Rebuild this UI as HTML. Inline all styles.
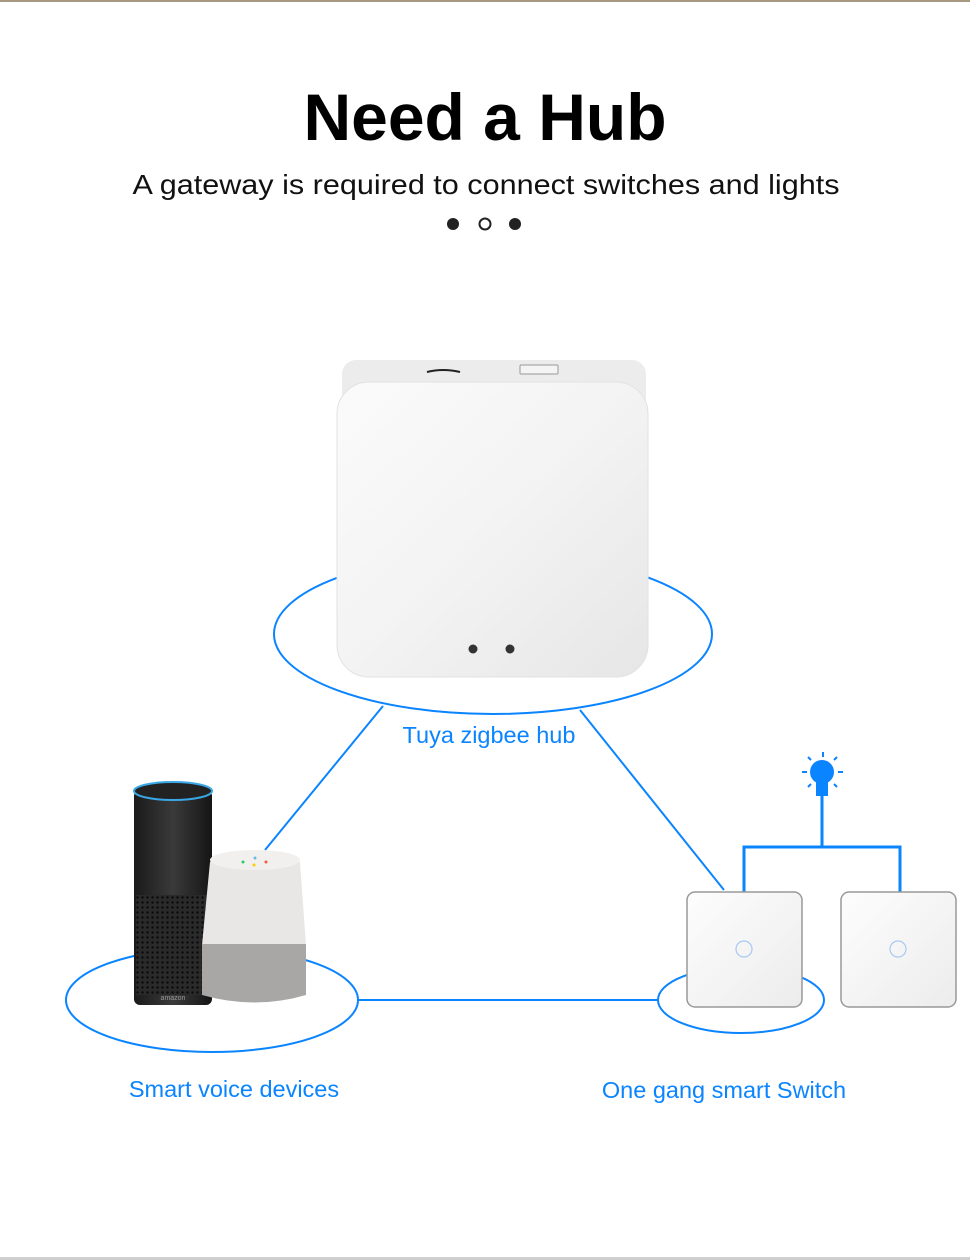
<!DOCTYPE html>
<html><head><meta charset="utf-8"><style>
html,body{margin:0;padding:0;background:#fff;}
body{width:970px;height:1260px;overflow:hidden;position:relative;}
</style></head><body>
<svg width="970" height="1260" viewBox="0 0 970 1260" xmlns="http://www.w3.org/2000/svg" style="position:absolute;left:0;top:0">
<defs>
<linearGradient id="hubg" x1="0" y1="0" x2="1" y2="1">
<stop offset="0" stop-color="#fbfbfb"/><stop offset="0.5" stop-color="#f3f3f3"/><stop offset="1" stop-color="#e6e6e6"/></linearGradient>
<linearGradient id="sw" x1="0" y1="0" x2="1" y2="1">
<stop offset="0" stop-color="#fdfdfd"/><stop offset="1" stop-color="#ececec"/></linearGradient>
<linearGradient id="echo" x1="0" x2="1"><stop offset="0" stop-color="#1a1a1a"/><stop offset="0.5" stop-color="#3a3a3a"/><stop offset="1" stop-color="#151515"/></linearGradient>
<pattern id="dots" width="5" height="5" patternUnits="userSpaceOnUse"><rect width="5" height="5" fill="#2a2a2a"/><circle cx="2.5" cy="2.5" r="1.2" fill="#0a0a0a"/></pattern>
</defs>
<rect x="0" y="0" width="970" height="2" fill="#a89880"/>
<rect x="0" y="1257" width="970" height="3" fill="#cfcfcf"/>
<text x="485" y="140" text-anchor="middle" font-family="Liberation Sans, sans-serif" font-weight="bold" font-size="66" fill="#000">Need a Hub</text>
<text x="486" y="194" text-anchor="middle" font-family="Liberation Sans, sans-serif" font-size="28" textLength="707" lengthAdjust="spacingAndGlyphs" fill="#111">A gateway is required to connect switches and lights</text>
<circle cx="453" cy="224" r="6" fill="#222"/>
<circle cx="485" cy="224" r="5.5" fill="none" stroke="#222" stroke-width="2"/>
<circle cx="515" cy="224" r="6" fill="#222"/>
<g fill="none" stroke="#0a84ff" stroke-width="2">
<ellipse cx="493" cy="634" rx="219" ry="80"/>
<ellipse cx="212" cy="1000" rx="146" ry="52"/>
<ellipse cx="741" cy="1000" rx="83" ry="33"/>
<line x1="383" y1="706" x2="265" y2="850"/>
<line x1="580" y1="710" x2="724" y2="890"/>
<line x1="358" y1="1000" x2="658" y2="1000"/>
</g>
<!-- hub -->
<rect x="342" y="360" width="304" height="60" rx="14" fill="#ececec"/>
<rect x="337" y="382" width="311" height="295" rx="32" fill="url(#hubg)" stroke="#e2e2e2"/>
<path d="M427 372 Q443 368 460 372" stroke="#222" stroke-width="2" fill="none"/>
<rect x="520" y="365" width="38" height="9" rx="1" fill="#f4f4f4" stroke="#999"/>
<circle cx="473" cy="649" r="4.5" fill="#333"/><circle cx="510" cy="649" r="4.5" fill="#333"/>
<text x="489" y="743" text-anchor="middle" font-family="Liberation Sans, sans-serif" font-size="23.5" fill="#0a84ff">Tuya zigbee hub</text>
<!-- echo -->
<rect x="134" y="790" width="78" height="215" rx="6" fill="url(#echo)"/>
<rect x="136" y="895" width="74" height="100" fill="url(#dots)"/>
<ellipse cx="173" cy="791" rx="39" ry="9" fill="#222" stroke="#3aa7e6" stroke-width="2"/>
<text x="173" y="1000" text-anchor="middle" font-family="Liberation Sans, sans-serif" font-size="7" fill="#999">amazon</text>
<!-- google home -->
<path d="M210 862 Q255 845 300 862 L306 945 L202 945 Z" fill="#e9e7e5"/>
<ellipse cx="255" cy="860" rx="45" ry="10" fill="#f1f0ee"/>
<path d="M202 944 L306 944 L306 995 Q255 1010 202 995 Z" fill="#a9a7a5"/>
<circle cx="243" cy="862" r="1.5" fill="#2c6"/><circle cx="255" cy="858" r="1.5" fill="#6bd"/><circle cx="254" cy="865" r="1.5" fill="#fc0"/><circle cx="266" cy="862" r="1.5" fill="#f54"/>
<text x="234" y="1097" text-anchor="middle" font-family="Liberation Sans, sans-serif" font-size="23.5" fill="#0a84ff">Smart voice devices</text>
<!-- switches -->
<g fill="none" stroke="#0a84ff" stroke-width="3">
<line x1="822" y1="795" x2="822" y2="847"/>
<polyline points="744,892 744,847 900,847 900,892"/>
</g>
<circle cx="822" cy="772" r="12" fill="#0a84ff"/>
<rect x="816" y="782" width="12" height="14" fill="#0a84ff"/>
<g stroke="#0a84ff" stroke-width="2">
<line x1="823" y1="752" x2="823" y2="757"/><line x1="802" y1="772" x2="807" y2="772"/><line x1="838" y1="772" x2="843" y2="772"/>
<line x1="808" y1="757" x2="811" y2="760"/><line x1="837" y1="757" x2="834" y2="760"/>
<line x1="808" y1="787" x2="811" y2="784"/><line x1="837" y1="787" x2="834" y2="784"/>
</g>
<rect x="687" y="892" width="115" height="115" rx="8" fill="url(#sw)" stroke="#999" stroke-width="1.5"/>
<circle cx="744" cy="949" r="8" fill="none" stroke="#a8c8f0" stroke-width="1.2"/>
<rect x="841" y="892" width="115" height="115" rx="8" fill="url(#sw)" stroke="#999" stroke-width="1.5"/>
<circle cx="898" cy="949" r="8" fill="none" stroke="#a8c8f0" stroke-width="1.2"/>
<text x="724" y="1098" text-anchor="middle" font-family="Liberation Sans, sans-serif" font-size="23.5" fill="#0a84ff">One gang smart Switch</text>
</svg>
</body></html>
